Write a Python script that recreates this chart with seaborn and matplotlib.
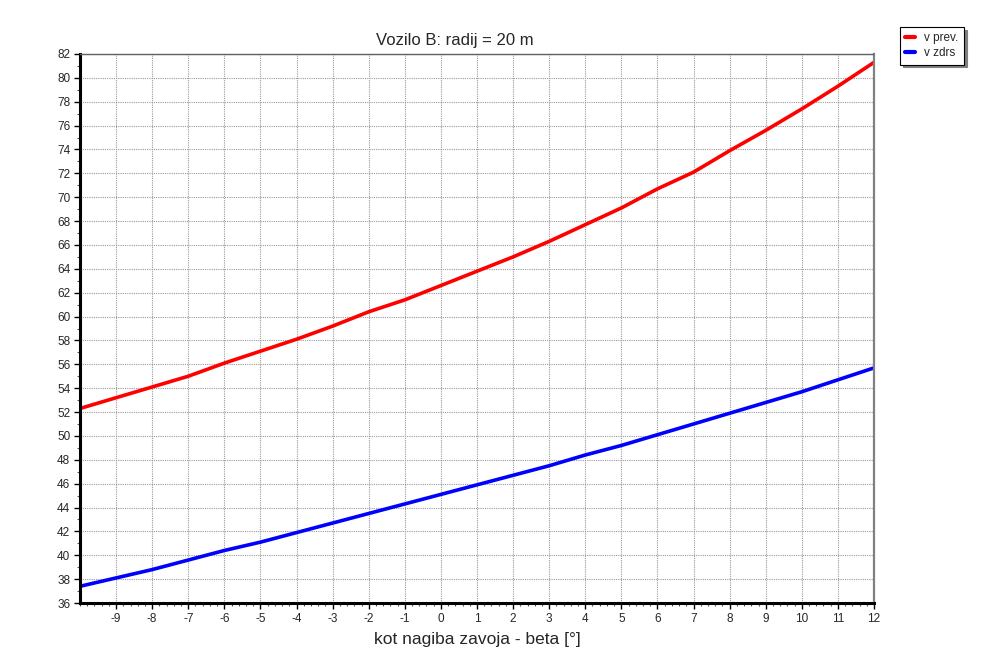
import matplotlib
matplotlib.use("Agg")
import matplotlib.pyplot as plt
from matplotlib.ticker import MultipleLocator
import pandas as pd
import seaborn as sns

# Bank angle of the curve (degrees)
beta = list(range(-10, 13))
# Overturning speed and sliding speed (km/h)
v_prev = [52.3, 53.2, 54.1, 55.0, 56.1, 57.1, 58.1, 59.2, 60.4, 61.4, 62.6,
          63.8, 65.0, 66.3, 67.7, 69.1, 70.7, 72.1, 73.9, 75.6, 77.4, 79.3, 81.3]
v_zdrs = [37.4, 38.1, 38.8, 39.6, 40.4, 41.1, 41.9, 42.7, 43.5, 44.3, 45.1,
          45.9, 46.7, 47.5, 48.4, 49.2, 50.1, 51.0, 51.9, 52.8, 53.7, 54.7, 55.7]
series_names = ["v prev.", "v zdrs"]
series_colors = ["#ff0000", "#0000ff"]
x_ticks = list(range(-9, 13))
y_ticks = list(range(36, 83, 2))

title = "Vozilo B: radij = 20 m"
xlabel = "kot nagiba zavoja - beta [°]"

df = pd.DataFrame({
    "beta": beta * 2,
    "v": v_prev + v_zdrs,
    "serija": [series_names[0]] * len(beta) + [series_names[1]] * len(beta),
})

sns.set_style("white")
plt.rcParams["font.family"] = ["Liberation Sans", "DejaVu Sans"]
plt.rcParams["axes.unicode_minus"] = False

fig = plt.figure(figsize=(9.87, 6.58), dpi=100)
ax = fig.add_axes([80 / 987, 1 - 603 / 658, (874 - 80) / 987, (603 - 54) / 658])

sns.lineplot(data=df, x="beta", y="v", hue="serija", palette=series_colors,
             linewidth=2.6, ax=ax)

ax.set_xlim(-10, 12)
ax.set_ylim(36, 82)
ax.set_xticks(x_ticks)
ax.set_yticks(y_ticks)
ax.xaxis.set_minor_locator(MultipleLocator(0.2))
ax.yaxis.set_minor_locator(MultipleLocator(1))
ax.tick_params(axis="both", which="major", direction="out", length=4, width=1,
               color="black", labelsize=8.5, pad=3, left=True, bottom=True)
ax.tick_params(axis="both", which="minor", direction="out", length=2, width=0.8,
               color="#555555", left=True, bottom=True)
ax.grid(True, which="major", color="#9a9a9a", linestyle=(0, (1, 1)), linewidth=0.8)

for side in ("left", "bottom"):
    ax.spines[side].set_color("black")
    ax.spines[side].set_linewidth(2.2)
ax.spines["right"].set_color("#808080")
ax.spines["right"].set_linewidth(1.6)
ax.spines["top"].set_color("#606060")
ax.spines["top"].set_linestyle((0, (1, 1)))
ax.spines["top"].set_linewidth(1.0)

ax.set_xlabel(xlabel, fontsize=12.5, labelpad=5)
ax.set_ylabel("")
fig.text(455 / 987, 1 - 40 / 658, title, ha="center", va="center", fontsize=12)

handles, labels = ax.get_legend_handles_labels()
ax.get_legend().remove()
leg = fig.legend(handles, labels, loc="upper left",
                 bbox_to_anchor=(900 / 987, 1 - 27 / 658),
                 frameon=True, fancybox=False, shadow={"color": "#808080", "alpha": 1},
                 edgecolor="black", fontsize=8.5, handlelength=0.8,
                 handletextpad=0.8, borderpad=0.45, labelspacing=0.25,
                 borderaxespad=0)
leg.get_frame().set_linewidth(0.8)
for line in leg.get_lines():
    line.set_linewidth(3)

fig.savefig("out.png", dpi=100)
